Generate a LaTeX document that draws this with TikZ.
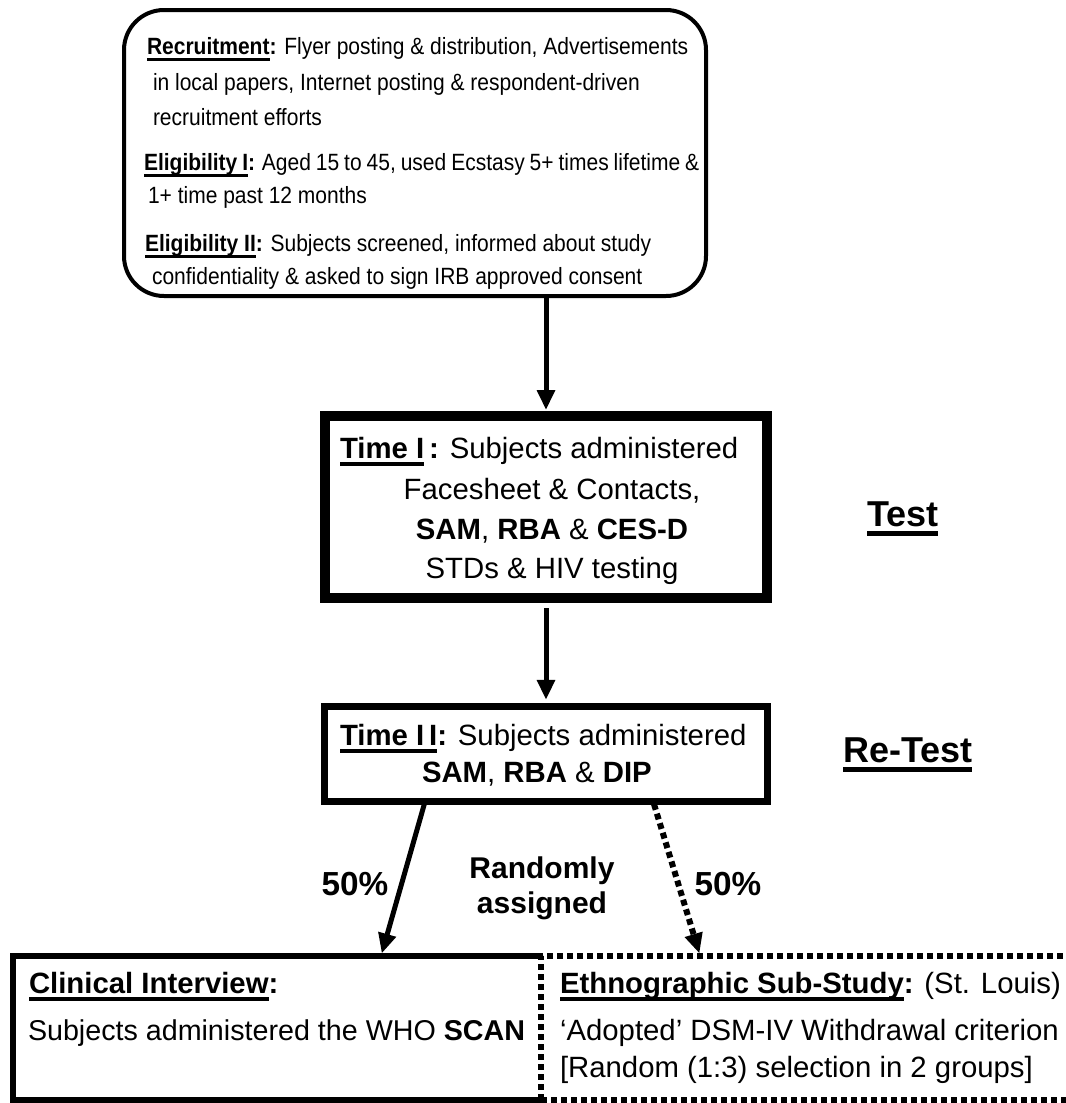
\documentclass[tikz,border=0pt]{standalone}
\usepackage{graphicx}
\usepackage{fontspec}
\setmainfont{Liberation Sans}
\usetikzlibrary{arrows.meta,calc}
% heavy underline that stops at the end of the word
\newcommand\ulbar[1]{\setbox0\hbox{#1}\rlap{\rule[-0.28em]{\wd0}{0.13em}}\box0}
% slightly taller lettering for the recruitment box
\newcommand\tallline[1]{\scalebox{1}[1.12]{#1}}
\begin{document}
\begin{tikzpicture}[x=0.75pt,y=-0.75pt,
  every node/.style={inner sep=0pt,outer sep=0pt},
  smalltxt/.style={font=\fontsize{15.75}{19}\selectfont,anchor=base west},
  midtxt/.style={font=\fontsize{22}{26}\selectfont,anchor=base west},
  labtxt/.style={font=\fontsize{22.5}{26}\selectfont\bfseries,anchor=base},
  pcttxt/.style={font=\fontsize{25}{28}\selectfont\bfseries,anchor=base},
  phasetxt/.style={font=\fontsize{27}{30}\selectfont\bfseries,anchor=base west},
  arr/.style={line width=3.75pt,-{Triangle[length=15pt,width=13pt]}},
  dotarr/.style={line width=4.5pt,dash pattern=on 4.5pt off 3pt,-{Triangle[length=15pt,width=13pt]}},
  dotbox/.style={draw,line width=4.5pt,dash pattern=on 4.5pt off 3pt}]
\useasboundingbox (0,0) rectangle (1066,1103);
\clip (0,0) rectangle (1066,1103);

% boxes
\node[draw,line width=3pt,rounded corners=30pt,minimum width=436.5pt,minimum height=214.5pt] (top) at (415,153) {};
\node[draw,line width=7.5pt,minimum width=331.5pt,minimum height=136.5pt] (t1) at (546,507) {};
\node[draw,line width=5.25pt,minimum width=332.25pt,minimum height=71.25pt] (t2) at (546,754) {};
\node[minimum width=396pt,minimum height=108pt] (clin) at (277,1028) {};
\draw[line width=4.5pt] (clin.north east) -- (clin.north west) -- (clin.south west) -- (clin.south east);
\node[dotbox,minimum width=411.75pt,minimum height=108pt] (ethno) at (815.5,1028) {};

% recruitment and eligibility text
\begin{scope}
\clip (124,10) rectangle (706,288);
\node[smalltxt] (r1) at (147,54) {\tallline{\textbf{\ulbar{Recruitment}:} Flyer posting \& distribution, Advertisements}};
\node[smalltxt] (r2) at (153,90) {\tallline{in local papers, Internet posting \& respondent-driven}};
\node[smalltxt] (r3) at (153,125) {\tallline{recruitment efforts}};
\node[smalltxt] (e1) at (144,170) {\tallline{\spaceskip=0.235em\textbf{\ulbar{Eligibility I}:} Aged 15 to 45, used Ecstasy 5+ times lifetime \&}};
\node[smalltxt] (e2) at (148,203) {\tallline{1+ time past 12 months}};
\node[smalltxt] (e3) at (145,251) {\tallline{\textbf{\ulbar{Eligibility II}:} Subjects screened, informed about study}};
\node[smalltxt] (e4) at (152,284) {\tallline{confidentiality \& asked to sign IRB approved consent}};
\end{scope}

% time I
\node[midtxt] (ta) at (340,458) {\textbf{\ulbar{Time I}\,:} Subjects administered};
\node[midtxt,anchor=base] (tb) at (552,499) {Facesheet \& Contacts,};
\node[midtxt,anchor=base] (tc) at (552,539) {\textbf{SAM}, \textbf{RBA} \& \textbf{CES-D}};
\node[midtxt,anchor=base] (td) at (552,578) {STDs \& HIV testing};

% time II
\node[midtxt] (ua) at (340,745) {\textbf{\ulbar{Time I\,I}:} Subjects administered};
\node[midtxt] (ub) at (422,782) {\textbf{SAM}, \textbf{RBA} \& \textbf{DIP}};

% phase labels
\node[phasetxt] (test) at (867,526) {\ulbar{Test}};
\node[phasetxt] (retest) at (843,762) {\ulbar{Re-Test}};

% assignment labels
\node[pcttxt] (pl) at (355,895) {50\%};
\node[pcttxt] (pr) at (728,895) {50\%};
\node[labtxt] (rnd) at (542,878) {Randomly};
\node[labtxt] (asg) at (542,913) {assigned};

% bottom boxes text
\node[midtxt] (c1) at (29,993) {\textbf{\ulbar{Clinical Interview}:}};
\node[midtxt,font=\fontsize{21.5}{26}\selectfont] (c2) at (28,1040) {Subjects administered the WHO \textbf{SCAN}};
\node[midtxt] (s1) at (560,993) {\textbf{\ulbar{Ethnographic Sub-Study}:} (St. Louis)};
\node[midtxt] (s2) at (560,1040) {‘Adopted’ DSM-IV Withdrawal criterion};
\node[midtxt] (s3) at (560,1077) {[Random (1:3) selection in 2 groups]};

% connectors
\draw[arr,shorten >=4.5pt] (top.south -| t1.north) -- (t1.north);
\draw[arr,shorten <=7.5pt,shorten >=5pt] (t1.south) -- (t2.north);
\draw[arr,shorten <=2pt,shorten >=2pt] ($(t2.south west)!0.227!(t2.south east)$) -- ($(clin.north west)!0.697!(clin.north east)$);
\draw[dotarr,shorten <=2pt,shorten >=2pt] ($(t2.south west)!0.742!(t2.south east)$) -- ($(ethno.north west)!0.29!(ethno.north east)$);
\end{tikzpicture}
\end{document}
